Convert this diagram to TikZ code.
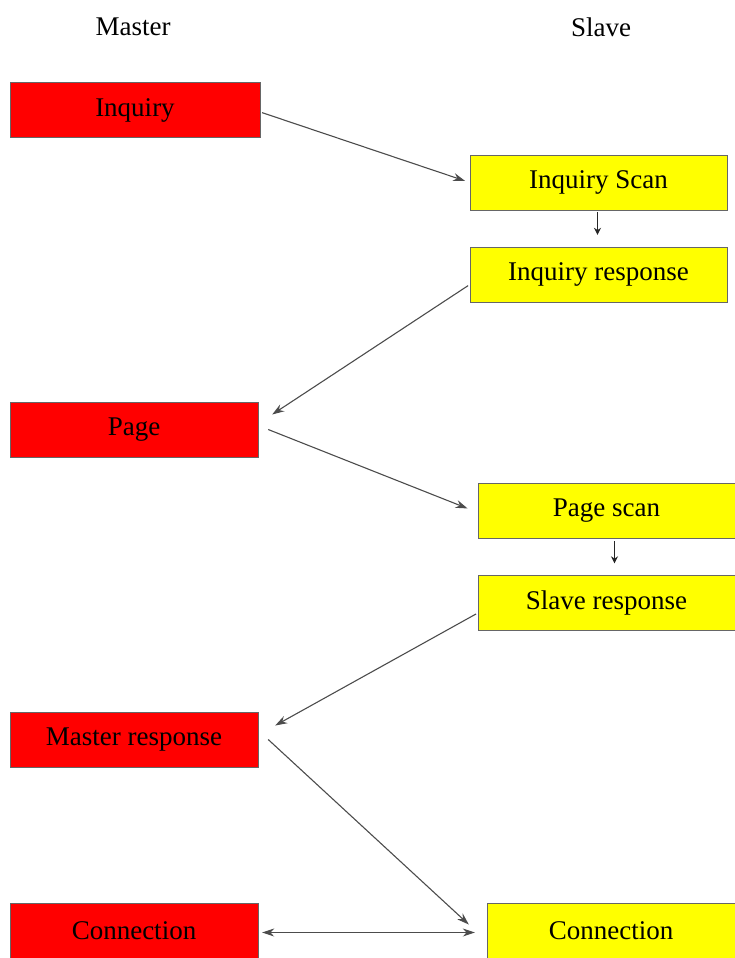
\documentclass[tikz,border=0pt]{standalone}
\usepackage{fontspec}
\setmainfont{Liberation Serif}
\usetikzlibrary{arrows.meta}
\definecolor{masterred}{RGB}{255,0,0}
\definecolor{slaveyellow}{RGB}{255,255,0}
\tikzset{
  master/.style={draw=black!60, fill=masterred, minimum width=250pt, minimum height=55pt, inner sep=0pt},
  slave/.style={draw=black!60, fill=slaveyellow, minimum width=257pt, minimum height=55pt, inner sep=0pt},
  link/.style={draw=black!70, line width=1.1pt, -{Stealth[length=12pt,width=8pt]}},
  tiny/.style={draw=black!85, line width=1.5pt, -{Stealth[length=7pt,width=7pt]}}
}
\begin{document}
\begin{tikzpicture}[x=1pt,y=-1pt,font=\fontsize{27}{30}\selectfont]
\useasboundingbox (0,0) rectangle (735,958);
\node (mhead) at (133,27) {Master};
\node (shead) at (601,27) {Slave};
% master side
\node[master] (inq) at (135,110) {Inquiry};
\node[master, minimum width=248pt] (page) at (134,429.5) {Page};
\node[master, minimum width=248pt] (mresp) at (134,739.5) {Master response};
\node[master, minimum width=248pt] (conm) at (134,930.5) {Connection};
% slave side
\node[slave] (iscan) at (598.5,182.5) {Inquiry Scan};
\node[slave] (iresp) at (598.5,274.5) {Inquiry response};
\node[slave] (pscan) at (606.5,510.5) {Page scan};
\node[slave] (sresp) at (606.5,603) {Slave response};
\node[slave, minimum width=248pt] (cons) at (611,930.5) {Connection};
% connectors
\draw[link, shorten <=2pt, shorten >=5pt] ([yshift=-2pt]inq.east) -- (iscan.west);
\draw[tiny, shorten <=2pt, shorten >=12pt] ([xshift=-1pt]iscan.south) -- ([xshift=-1pt]iresp.north);
\draw[link, shorten <=2pt] ([yshift=-10pt]iresp.west) -- ([xshift=14pt,yshift=15pt]page.east);
\draw[link, shorten >=11pt] ([xshift=10pt]page.east) -- ([yshift=-2pt]pscan.west);
\draw[tiny, shorten <=3pt, shorten >=12pt] ([xshift=8pt]pscan.south) -- ([xshift=8pt]sresp.north);
\draw[link, shorten <=2pt] ([yshift=-10pt]sresp.west) -- ([xshift=17pt,yshift=14pt]mresp.east);
\draw[link] ([xshift=10pt]mresp.east) -- ([xshift=-18pt,yshift=6pt]cons.west);
\draw[link, {Stealth[length=12pt,width=8pt]}-{Stealth[length=12pt,width=8pt]}, shorten <=4pt, shorten >=12pt] ([yshift=-2pt]conm.east) -- ([yshift=-2pt]cons.west);
\end{tikzpicture}
\end{document}
